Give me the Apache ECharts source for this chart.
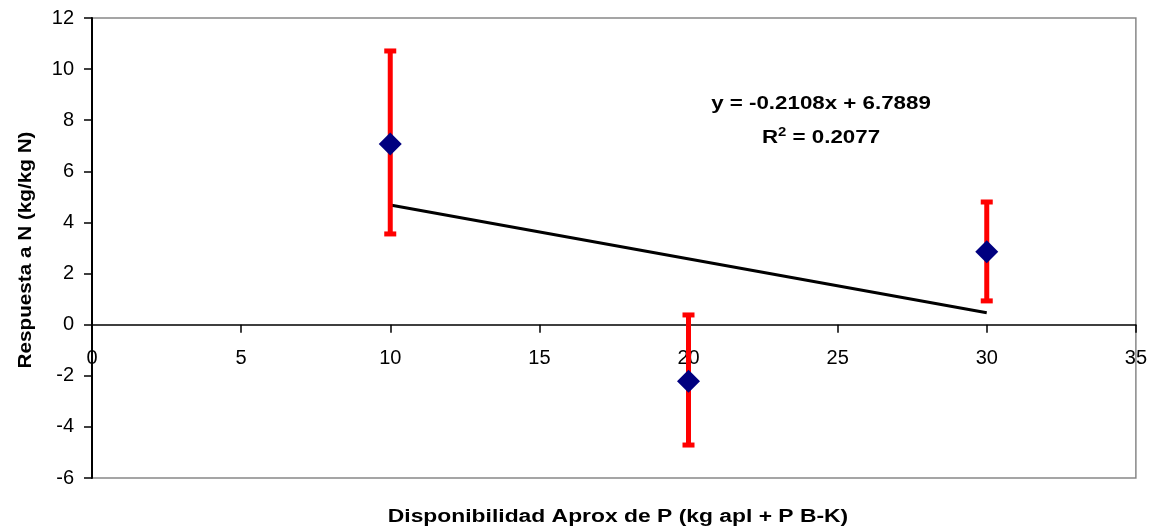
<!DOCTYPE html>
<html>
<head>
<meta charset="utf-8">
<script src="https://cdn.jsdelivr.net/npm/echarts@6/dist/echarts.min.js"></script>
<style>
  html, body { margin: 0; padding: 0; background: #fff; }
  #chart { width: 1150px; height: 530px; }
</style>
</head>
<body>
<div id="chart"></div>
<script>
// datos
const phosphorus = [10, 20, 30]
const response = [7.07, -2.21, 2.85]
const errorLow = [3.55, -4.71, 0.93]
const errorHigh = [10.71, 0.38, 4.8]

// linea de tendencia (ajuste lineal)
const trendSlope = -0.2108
const trendIntercept = 6.7889
const trendR2 = 0.2077
const trendX = [10, 30]

const font = 'Liberation Sans, Arial, sans-serif'

const points = phosphorus.map((x, i) => [x, response[i]])
const bars = phosphorus.map((x, i) => [x, errorLow[i], errorHigh[i]])
const trend = trendX.map((x) => [x, trendSlope * x + trendIntercept])

const chart = echarts.init(document.getElementById('chart'), null, { renderer: 'canvas' })

chart.setOption({
  backgroundColor: '#fff',
  animation: false,
  grid: {
    left: 92, top: 18, right: 12, bottom: 52,
    show: true, borderColor: '#888', borderWidth: 1.5,
  },
  xAxis: {
    type: 'value',
    min: 0, max: 35, interval: 5,
    axisLine: { onZero: false, lineStyle: { color: '#000', width: 1.5 } },
    axisTick: { show: true, inside: false, length: 8, lineStyle: { color: '#000', width: 1.5 } },
    axisLabel: { color: '#000', fontSize: 20, fontFamily: font, margin: 24 },
    splitLine: { show: false },
  },
  yAxis: {
    type: 'value',
    min: -6, max: 12, interval: 2,
    axisLine: { show: true, onZero: false, lineStyle: { color: '#000', width: 2 } },
    axisTick: { show: true, length: 8, lineStyle: { color: '#000', width: 1.5 } },
    axisLabel: { color: '#000', fontSize: 20, fontFamily: font, margin: 18 },
    splitLine: { show: false },
  },
  graphic: [
    {
      type: 'text', x: 618, y: 517, scaleX: 1.27,
      style: {
        text: 'Disponibilidad Aprox de P (kg apl + P B-K)',
        font: `bold 18px ${font}`, fill: '#000',
        align: 'center', verticalAlign: 'middle',
      },
    },
    {
      type: 'text', x: 26, y: 250, rotation: Math.PI / 2, scaleX: 1.15,
      style: {
        text: 'Respuesta a N (kg/kg N)',
        font: `bold 18px ${font}`, fill: '#000',
        align: 'center', verticalAlign: 'middle',
      },
    },
    {
      type: 'text', x: 821, y: 104, scaleX: 1.24,
      style: {
        text: `y = ${trendSlope}x + ${trendIntercept}`,
        font: `bold 18px ${font}`, fill: '#000',
        align: 'center', verticalAlign: 'middle',
      },
    },
    {
      type: 'text', x: 821, y: 138, scaleX: 1.24,
      style: {
        text: `{b|R}{s|2}{b| = ${trendR2}}`,
        align: 'center', verticalAlign: 'middle',
        rich: {
          b: { font: `bold 18px ${font}`, fill: '#000', lineHeight: 22 },
          s: { font: `bold 12px ${font}`, fill: '#000', padding: [0, 0, 10, 0], lineHeight: 22 },
        },
      },
    },
  ],
  series: [
    {
      type: 'line',
      data: trend,
      symbol: 'none',
      lineStyle: { color: '#000', width: 3 },
      z: 3,
    },
    {
      type: 'custom',
      data: bars,
      z: 4,
      renderItem: (params, api) => {
        const x = api.value(0)
        const lo = api.coord([x, api.value(1)])
        const hi = api.coord([x, api.value(2)])
        const cap = 6
        const style = { stroke: '#ff0000', lineWidth: 5 }
        return {
          type: 'group',
          children: [
            { type: 'line', shape: { x1: lo[0], y1: lo[1], x2: hi[0], y2: hi[1] }, style },
            { type: 'line', shape: { x1: lo[0] - cap, y1: lo[1], x2: lo[0] + cap, y2: lo[1] }, style },
            { type: 'line', shape: { x1: hi[0] - cap, y1: hi[1], x2: hi[0] + cap, y2: hi[1] }, style },
          ],
        }
      },
    },
    {
      type: 'scatter',
      data: points,
      symbol: 'diamond',
      symbolSize: [23, 23],
      itemStyle: { color: '#000080', opacity: 1 },
      z: 5,
    },
  ],
})

// el eje x cruza en y = 0, con sus etiquetas
const y0 = chart.convertToPixel({ yAxisIndex: 0 }, 0)
const yBottom = chart.convertToPixel({ yAxisIndex: 0 }, -6)
chart.setOption({ xAxis: { offset: y0 - yBottom } })
</script>
</body>
</html>
